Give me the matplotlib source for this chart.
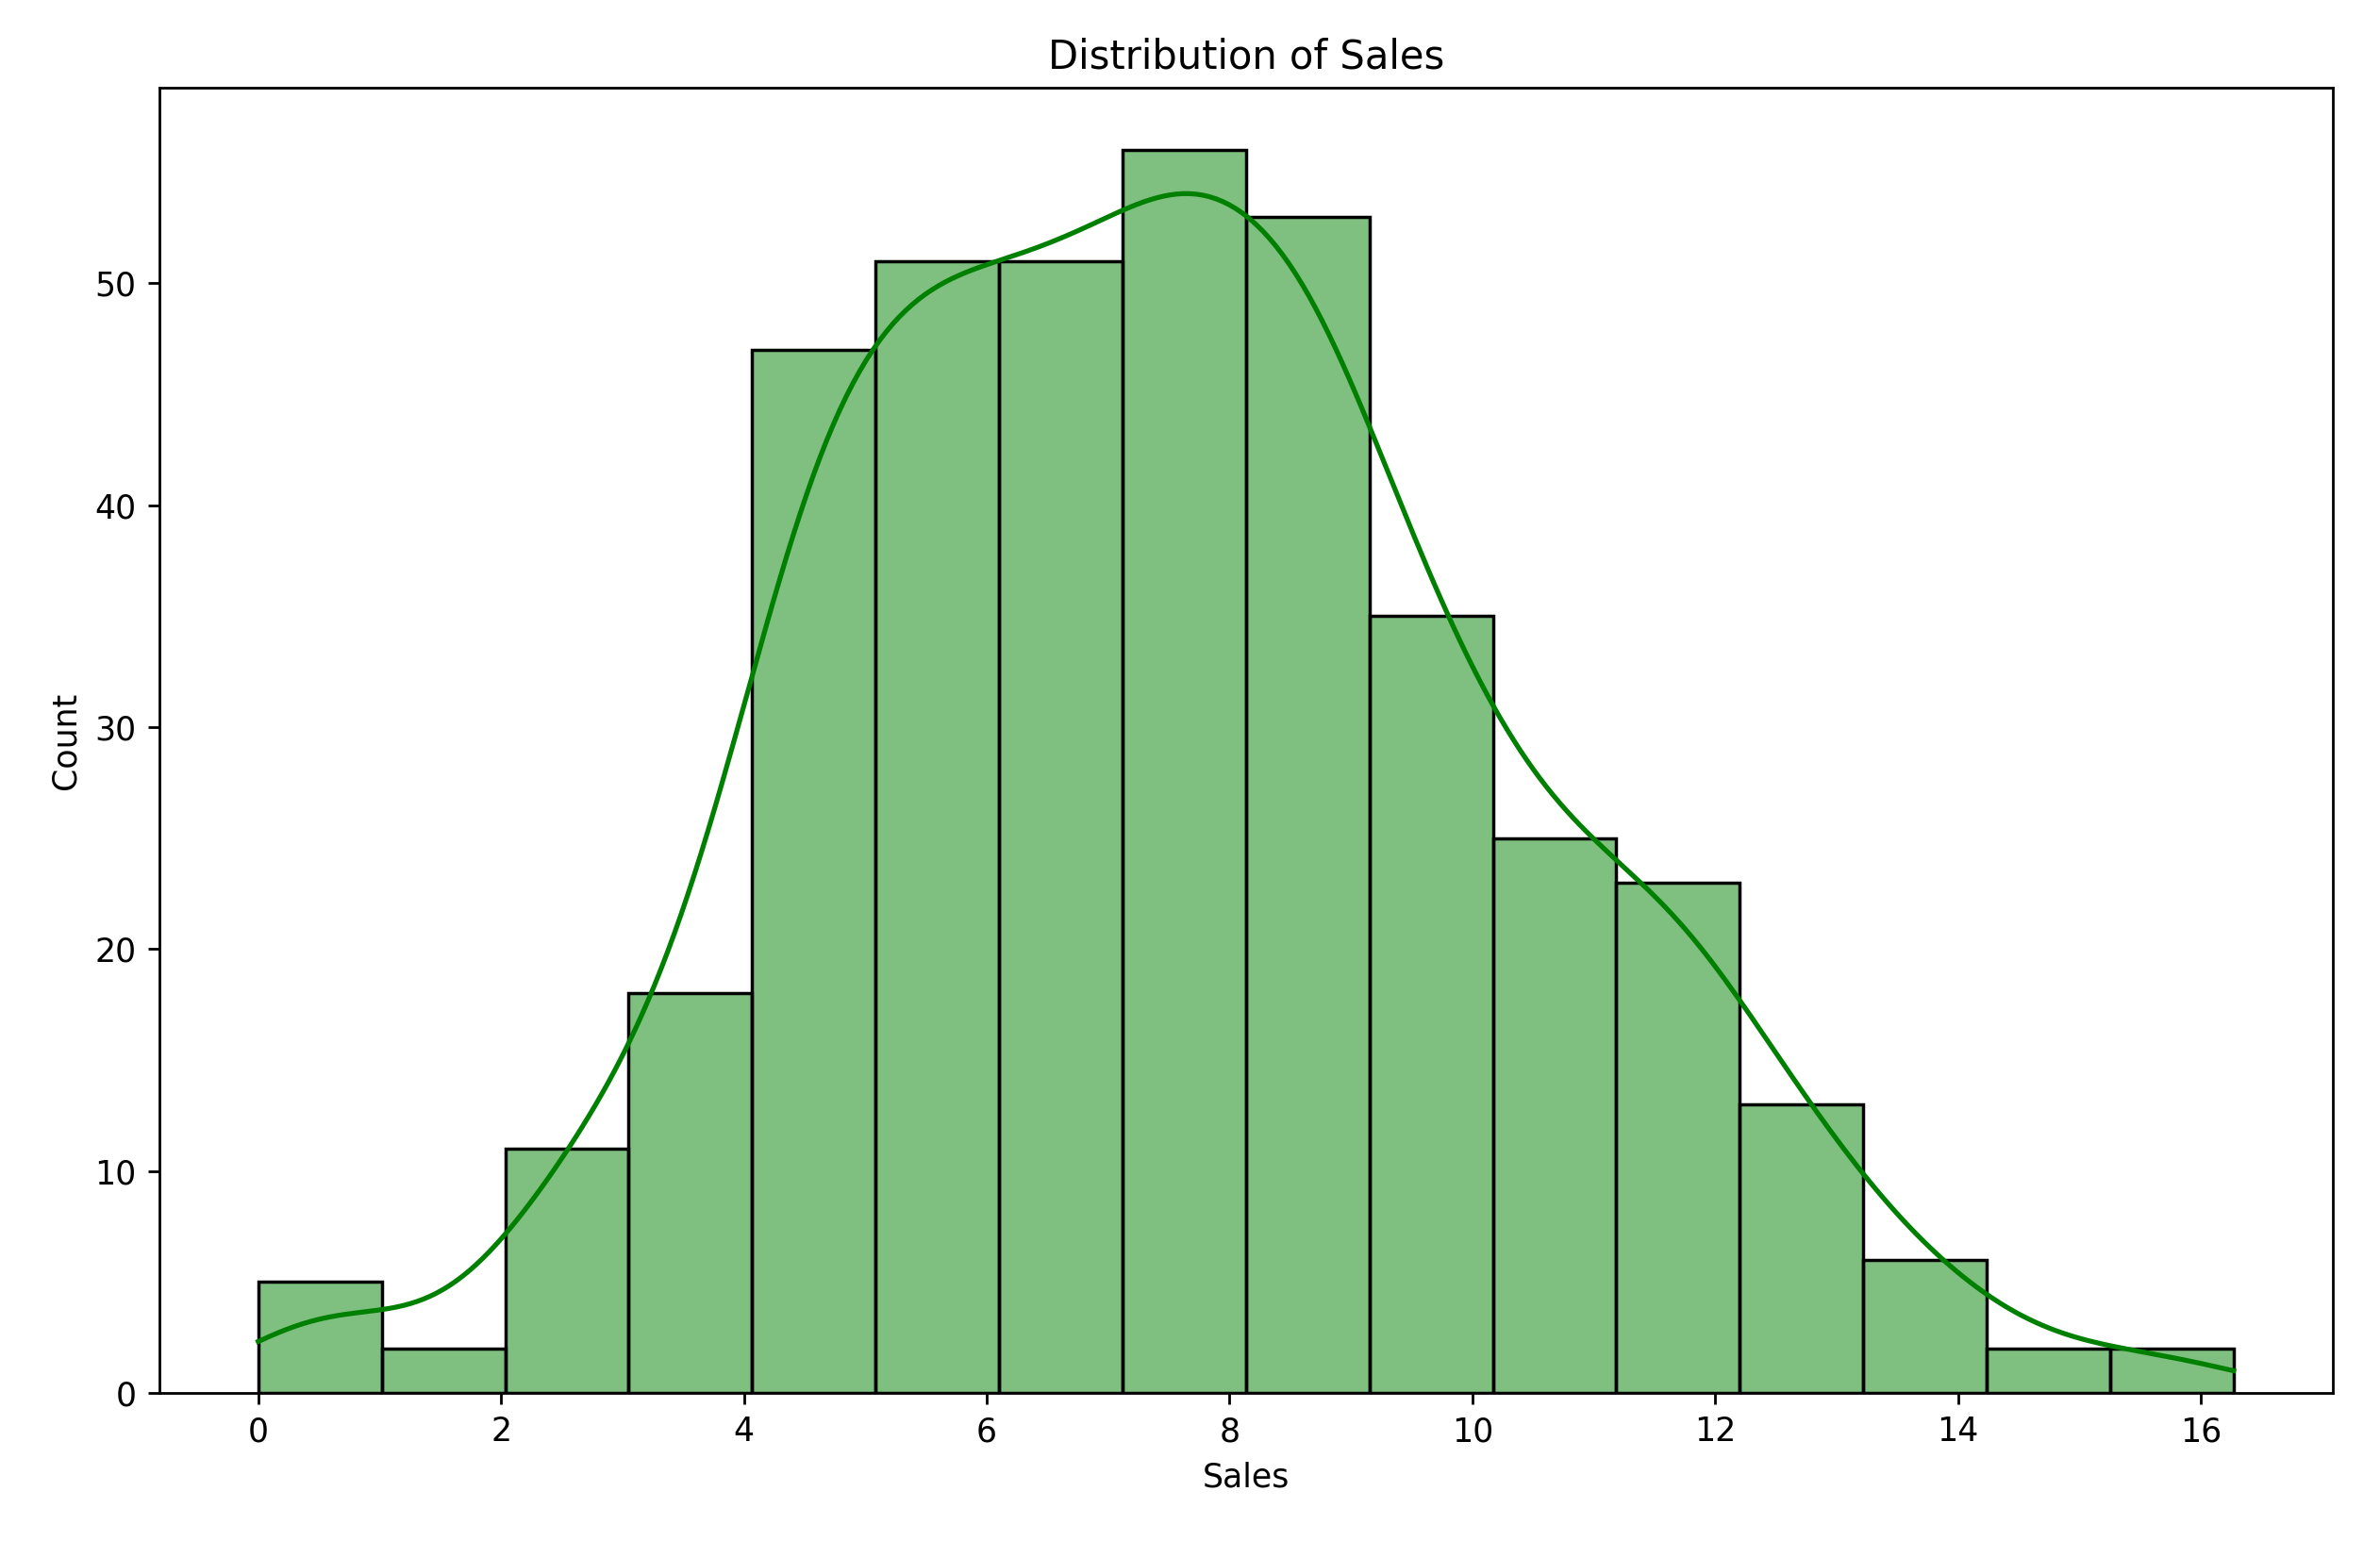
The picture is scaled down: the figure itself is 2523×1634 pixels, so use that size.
import numpy as np
import matplotlib
matplotlib.use("Agg")
import matplotlib.pyplot as plt

bin_start = 0.0
bin_end = 16.27
counts = [5, 2, 11, 18, 47, 51, 51, 56, 53, 35, 25, 23, 13, 6, 2, 2]

edges = np.linspace(bin_start, bin_end, len(counts) + 1)
width = edges[1] - edges[0]
centers = edges[:-1] + width / 2

fig = plt.figure(figsize=(10.092, 6.536), dpi=250)
ax = fig.add_axes([0.067, 0.096, 0.913, 0.847])
ax.bar(edges[:-1], counts, width=width, align='edge', color=(0, 0.5, 0, 0.5),
       edgecolor='black', linewidth=1)

# KDE from binned counts (weighted Gaussian, Scott bandwidth)
w = np.array(counts, float)
n = w.sum()
mean = np.sum(w * centers) / n
std = np.sqrt(np.sum(w * (centers - mean) ** 2) / n)
bw = std * n ** (-1 / 5) * 0.85
xs = np.linspace(bin_start, bin_end, 300)
dens = np.sum(w[None, :] * np.exp(-0.5 * ((xs[:, None] - centers[None, :]) / bw) ** 2), axis=1) / (n * bw * np.sqrt(2 * np.pi))
ax.plot(xs, dens * n * width, color='green', linewidth=1.5)

ax.set_xticks(np.arange(0, 17, 2))
ax.set_xlabel("Sales")
ax.set_ylabel("Count")
ax.set_title("Distribution of Sales")
fig.savefig("out.png")
